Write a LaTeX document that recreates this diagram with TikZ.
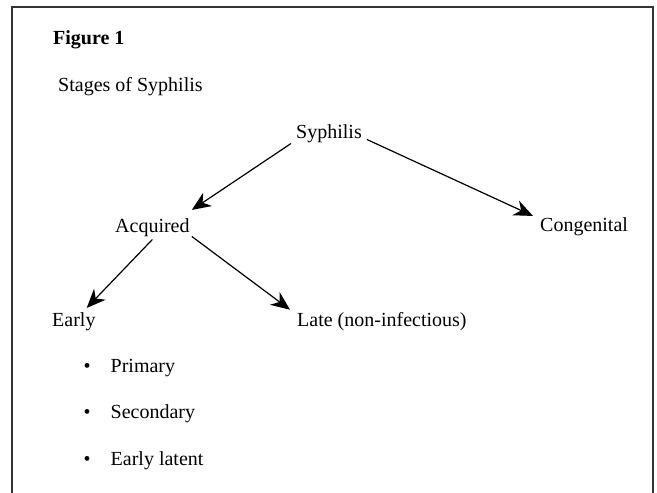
\documentclass[tikz,border=0pt]{standalone}
\usepackage{fontspec}
\setmainfont{Liberation Serif}
\usetikzlibrary{arrows.meta}
\begin{document}
\begin{tikzpicture}[x=1pt,y=-1pt,
  lbl/.style={anchor=base west,inner sep=0pt,font=\fontsize{20}{24}\selectfont},
  arr/.style={-{Stealth[length=19pt,width=16pt,inset=6pt]},line width=1.2pt},
  frame/.style={line width=2pt,draw=black!80}]
\useasboundingbox (0,0) rectangle (657,493);
\draw[frame] (12,494) -- (12,7) -- (653,7) -- (653,494);
\node[lbl,font=\bfseries\fontsize{20}{24}\selectfont] (fig) at (53,44) {Figure 1};
\node[lbl] (title) at (58,91) {Stages of Syphilis};
\node[lbl] (syph) at (296,138) {Syphilis};
\node[lbl] (acq) at (115,232) {Acquired};
\node[lbl] (cong) at (540,231) {Congenital};
\node[lbl] (early) at (52,326) {Early};
\node[lbl] (late) at (297,326) {Late (non-infectious)};
\node[lbl] (b1) at (83.5,372) {\textbullet\hspace{20pt}Primary};
\node[lbl] (b2) at (83.5,418) {\textbullet\hspace{20pt}Secondary};
\node[lbl] (b3) at (83.5,465) {\textbullet\hspace{20pt}Early latent};
\draw[arr] ([shift={(-5,1)}]syph.south west) -- ([shift={(2,-8)}]acq.north east);
\draw[arr] ([shift={(5,-3)}]syph.south east) -- ([shift={(-7,-1)}]cong.north west);
\draw[arr] ([shift={(0,3)}]acq.south) -- ([shift={(-9,-4)}]early.north east);
\draw[arr] ([shift={(2,0)}]acq.south east) -- ([shift={(-7,-2)}]late.north west);
\end{tikzpicture}
\end{document}
